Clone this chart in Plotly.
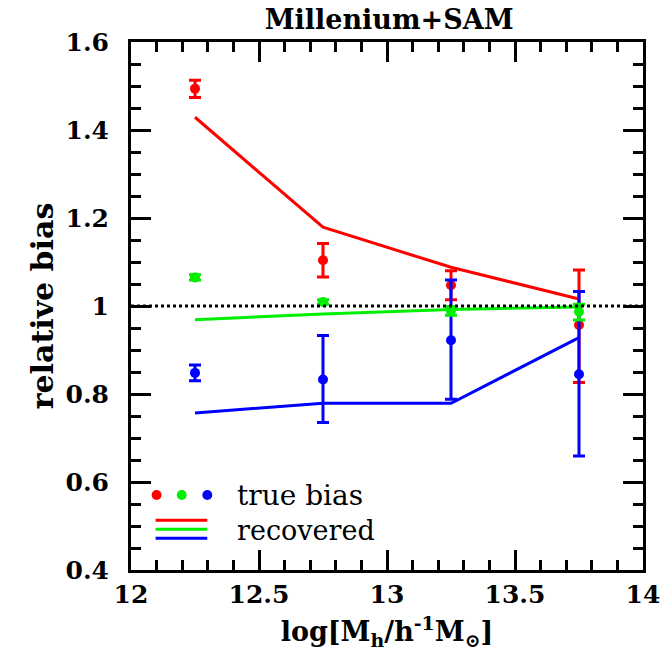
import plotly.graph_objects as go

# Data
mass_bins = [12.25, 12.75, 13.25, 13.75]

true_red = [1.494, 1.104, 1.047, 0.957]
err_red_plus = [0.019, 0.038, 0.033, 0.125]
err_red_minus = [0.020, 0.038, 0.033, 0.131]

true_green = [1.065, 1.009, 0.989, 0.987]
err_green_plus = [0.006, 0.005, 0.010, 0.017]
err_green_minus = [0.006, 0.005, 0.010, 0.019]

true_blue = [0.848, 0.833, 0.922, 0.845]
err_blue_plus = [0.018, 0.100, 0.137, 0.188]
err_blue_minus = [0.018, 0.098, 0.134, 0.186]

rec_red = [1.429, 1.179, 1.088, 1.016]
rec_green = [0.969, 0.982, 0.992, 0.998]
rec_blue = [0.757, 0.779, 0.779, 0.928]

x_tickvals = [12, 12.5, 13, 13.5, 14]
x_ticklabels = ["12", "12.5", "13", "13.5", "14"]
y_tickvals = [0.4, 0.6, 0.8, 1.0, 1.2, 1.4, 1.6]
y_ticklabels = ["0.4", "0.6", "0.8", "1", "1.2", "1.4", "1.6"]

legend_labels = ["true bias", "recovered"]

RED = "#ff0000"
GREEN = "#00ee00"
BLUE = "#0000ff"
FONT = "DejaVu Serif"

fig = go.Figure()

# recovered lines
for vals, col in [(rec_red, RED), (rec_green, GREEN), (rec_blue, BLUE)]:
    fig.add_trace(go.Scatter(x=mass_bins, y=vals, mode="lines",
                             line=dict(color=col, width=3), showlegend=False))

# true bias points (red, blue, green order for overlap)
for vals, ep, em, col in [(true_red, err_red_plus, err_red_minus, RED),
                          (true_blue, err_blue_plus, err_blue_minus, BLUE),
                          (true_green, err_green_plus, err_green_minus, GREEN)]:
    fig.add_trace(go.Scatter(
        x=mass_bins, y=vals, mode="markers",
        marker=dict(color=col, size=10, symbol="circle"),
        error_y=dict(type="data", symmetric=False, array=ep, arrayminus=em,
                     color=col, thickness=3, width=6),
        showlegend=False))

# dotted reference line at 1
fig.add_shape(type="line", xref="paper", yref="y", x0=0, x1=1, y0=1, y1=1,
              line=dict(color="black", width=3, dash="dot"))

# legend (drawn manually); plot area is 517 x 528 px
PW, PH = 517.0, 528.0
dot_cx = [0.050, 0.099, 0.149]
dot_cy = 0.142
r = 5.0
for cx, col in zip(dot_cx, [RED, GREEN, BLUE]):
    fig.add_shape(type="circle", xref="paper", yref="paper",
                  x0=cx - r / PW, x1=cx + r / PW,
                  y0=dot_cy - r / PH, y1=dot_cy + r / PH,
                  line=dict(color=col, width=0), fillcolor=col)
for i, col in enumerate([RED, GREEN, BLUE]):
    yy = 0.094 - i * 9 / PH
    fig.add_shape(type="line", xref="paper", yref="paper",
                  x0=0.048, x1=0.149, y0=yy, y1=yy,
                  line=dict(color=col, width=3))
fig.add_annotation(xref="paper", yref="paper", x=0.203, y=dot_cy, text=legend_labels[0],
                   showarrow=False, xanchor="left", yanchor="middle",
                   font=dict(family=FONT, size=28, color="black"))
fig.add_annotation(xref="paper", yref="paper", x=0.203, y=0.074, text=legend_labels[1],
                   showarrow=False, xanchor="left", yanchor="middle",
                   font=dict(family=FONT, size=27, color="black"))

axis_common = dict(showgrid=False, zeroline=False, showline=True, linecolor="black",
                   linewidth=3, mirror="ticks", ticks="inside", tickcolor="black",
                   tickwidth=3, ticklen=20,
                   tickfont=dict(family=FONT, size=25, color="black", weight=900))

fig.update_xaxes(range=[12, 14], tickmode="array", tickvals=x_tickvals,
                 ticktext=["<b>%s</b>" % t for t in x_ticklabels],
                 ticklabelstandoff=0,
                 minor=dict(dtick=0.1, tick0=12, ticks="inside", ticklen=10,
                            tickwidth=3, tickcolor="black", showgrid=False),
                 title=dict(text="<b>log[M<sub>h</sub>/h<sup>-1</sup>M<sub>⊙</sub>]</b>",
                            font=dict(family=FONT, size=27, color="black"),
                            standoff=15),
                 **axis_common)
fig.update_yaxes(range=[0.4, 1.6], tickmode="array", tickvals=y_tickvals,
                 ticktext=["<b>%s</b>" % t for t in y_ticklabels],
                 ticklabelstandoff=14,
                 minor=dict(dtick=0.05, tick0=0.4, ticks="inside", ticklen=10,
                            tickwidth=3, tickcolor="black", showgrid=False),
                 title=dict(text="<b>relative bias</b>",
                            font=dict(family=FONT, size=30, color="black"),
                            standoff=4),
                 **axis_common)

fig.update_layout(
    width=672, height=662,
    margin=dict(l=131, r=24, t=42, b=92),
    paper_bgcolor="white", plot_bgcolor="white",
    title=dict(text="<b>Millenium+SAM</b>", x=0.579, xanchor="center",
               y=0.970, yanchor="middle",
               font=dict(family=FONT, size=27, color="black")),
    showlegend=False,
)

fig.write_html("out.html")
